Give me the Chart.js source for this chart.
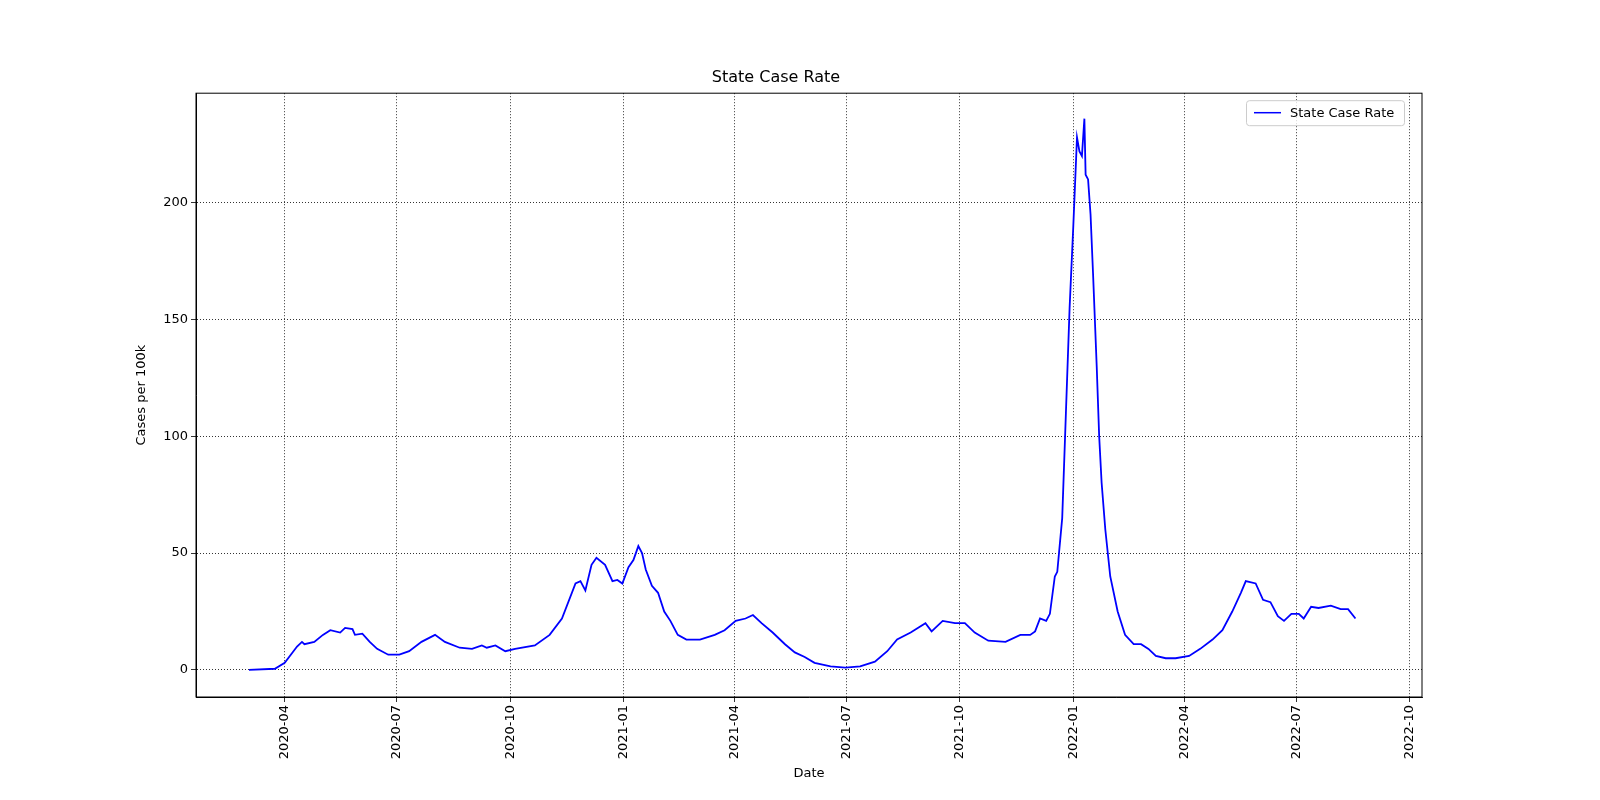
<!DOCTYPE html>
<html>
<head>
<meta charset="utf-8">
<script src="https://cdn.jsdelivr.net/npm/chart.js@4/dist/chart.umd.min.js"></script>
<style>
  html, body { margin: 0; padding: 0; background: #fff; overflow: hidden; }
  canvas { display: block; }
</style>
</head>
<body>
<canvas id="c" width="1600" height="800"></canvas>
<script>
// days since 2020-01-01
const days = [62,83,91,101,105,107,115,122,128,136,140,146,148,154,160,166,175,184,192,202,213,221,233,243,251,255,262,270,278,294,306,316,327,331,335,340,344,351,357,361,365,370,374,378,381,384,389,394,399,404,410,417,428,440,448,457,465,471,478,487,497,505,513,521,534,546,558,570,580,588,599,611,616,625,635,643,651,662,676,688,696,700,704,709,712,716,718,722,725,728,731,734,736,738,740,741,743,745,747,750,752,754,757,761,767,773,780,786,792,798,806,814,825,834,844,852,860,867,871,879,885,891,897,902,908,914,918,924,930,940,948,954,960];
const caseRate = [0,0.5,3,10,12,11,12,15,17,16,18,17.5,15,15.5,12,9,6.5,6.5,8,12,15,12,9.5,9,10.5,9.5,10.5,8,9,10.5,15,22,37,38,34,45,48,45,38,38.5,37,44,47,53,50,43,36,33,25,21,15,13,13,15,17,21,22,23.5,20,16,11,7.5,5.5,3,1.5,1,1.5,3.5,8,13,16,20,16.5,21,20,20,16,12.5,12,15,15,16.5,22,21,24,40,42,65,110,155,190,228,222,220,236,212,210,195,170,130,100,80,60,40,25,15,11,11,9,6,5,5,6,9,13,17,25,33,38,37,30,29,23,21,24,24,22,27,26.5,27.5,26,26,22];
const xTickDays = [91,182,274,366,456,547,639,731,821,912,1004];
const xTickLabels = ["2020-04","2020-07","2020-10","2021-01","2021-04","2021-07","2021-10","2022-01","2022-04","2022-07","2022-10"];
const yTicks = [0,50,100,150,200];

const font = { family: "DejaVu Sans", size: 13 };

const legendBox = {
  id: "legendBox",
  afterDraw(chart) {
    const { ctx, chartArea } = chart;
    const w = 158, h = 25, x = chartArea.right - w - 18, y = chartArea.top + 7;
    ctx.save();
    ctx.fillStyle = "rgba(255,255,255,0.8)";
    ctx.strokeStyle = "#cccccc";
    ctx.lineWidth = 1;
    ctx.beginPath();
    ctx.roundRect(x + 0.5, y + 0.5, w, h, 3);
    ctx.fill(); ctx.stroke();
    ctx.strokeStyle = "blue"; ctx.lineWidth = 1.5;
    ctx.beginPath(); ctx.moveTo(x + 8, y + 12.5); ctx.lineTo(x + 35, y + 12.5); ctx.stroke();
    ctx.fillStyle = "#000"; ctx.font = "13px 'DejaVu Sans'"; ctx.textBaseline = "middle";
    ctx.fillText("State Case Rate", x + 44, y + 13);
    ctx.restore();
  }
};

new Chart(document.getElementById("c"), {
  type: "line",
  data: {
    datasets: [{
      label: "State Case Rate",
      data: days.map((d, i) => ({ x: d, y: caseRate[i] })),
      borderColor: "blue", borderWidth: 1.8, pointRadius: 0, tension: 0, fill: false
    }]
  },
  options: {
    responsive: false, animation: false, devicePixelRatio: 1,
    layout: { padding: { top: 68, left: 130, right: 178, bottom: 15 } },
    plugins: {
      legend: { display: false },
      tooltip: { enabled: false },
      title: { display: true, text: "State Case Rate", color: "#000", font: { family: "DejaVu Sans", size: 16, weight: "normal" }, padding: { top: 0, bottom: 6 } }
    },
    scales: {
      x: {
        type: "linear", min: 19, max: 1014,
        afterBuildTicks: s => { s.ticks = xTickDays.map(v => ({ value: v })); },
        afterFit: s => { s.height = 88; },
        ticks: { color: "#000", font, maxRotation: 90, minRotation: 90, autoSkip: false,
          callback: v => xTickLabels[xTickDays.indexOf(v)] },
        grid: { color: "#000", lineWidth: 0.8, tickLength: 5 },
        border: { color: "#000", dash: [1, 2] },
        title: { display: true, text: "Date", color: "#000", font }
      },
      y: {
        min: -11.6, max: 246.9,
        afterBuildTicks: s => { s.ticks = yTicks.map(v => ({ value: v })); },
        afterFit: s => { s.width = 66; },
        ticks: { color: "#000", font },
        grid: { color: "#000", lineWidth: 0.8, tickLength: 5 },
        border: { color: "#000", dash: [1, 2] },
        title: { display: true, text: "Cases per 100k", color: "#000", font }
      }
    }
  },
  plugins: [legendBox, {
    id: "frame",
    beforeDatasetsDraw(chart) {
      const { ctx, chartArea: a } = chart;
      ctx.save(); ctx.strokeStyle = "#000"; ctx.lineWidth = 1;
      ctx.strokeRect(a.left, a.top, a.right - a.left, a.bottom - a.top);
      ctx.restore();
    }
  }]
});
</script>
</body>
</html>
